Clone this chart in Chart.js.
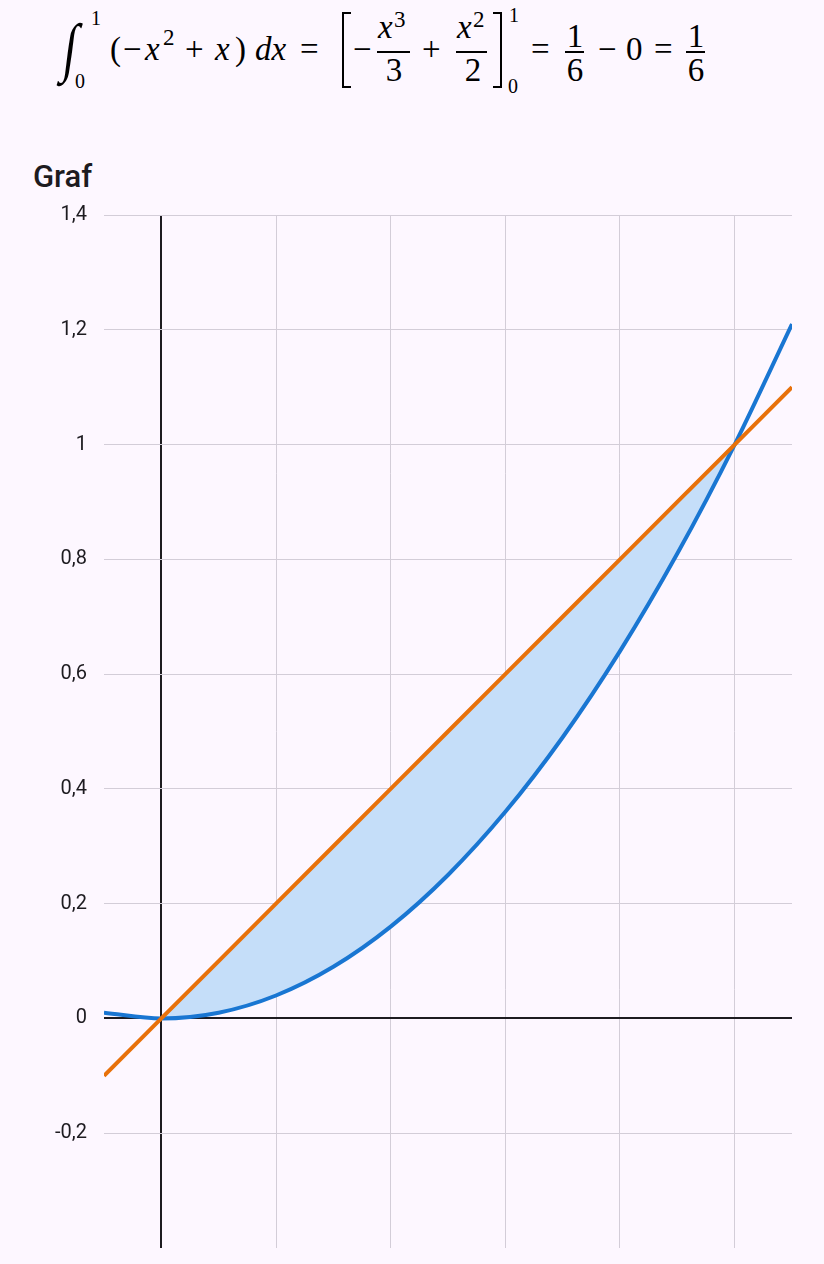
<!DOCTYPE html>
<html>
<head>
<meta charset="utf-8">
<script src="https://cdn.jsdelivr.net/npm/chart.js@4"></script>
<style>
  html, body { margin: 0; padding: 0; background: #fdf7ff; }
  body { width: 824px; height: 1264px; position: relative; overflow: hidden; }
  .m { position: absolute; font-family: 'Liberation Serif', serif; font-size: 33px; line-height: 1; color: #000; white-space: nowrap; }
  .m.i { font-style: italic; }
  .m.s { font-size: 23px; }
  .m.l { font-size: 20px; }
  .m.c { text-align: center; width: 20px; }
  .bar { position: absolute; height: 1.5px; background: #000; top: 51px; }
  .br { position: absolute; top: 12px; width: 9px; height: 76px; box-sizing: border-box; border: 2px solid #000; }
  .int { position: absolute; left: 64px; top: 23px; font-family: 'Liberation Serif', serif; font-size: 48px; line-height: 1;
         transform-origin: 50% 50%; transform: scaleY(1.35) skewX(-10deg); }
  #title { position: absolute; left: 33px; top: 161px; font-family: Roboto, sans-serif; font-size: 31px; line-height: 1; font-weight: 500; color: #1d1b20; }
  #wrap { position: absolute; left: 0; top: 186px; width: 824px; height: 1091px; }
</style>
</head>
<body>
<!-- formula: ∫₀¹ (−x² + x) dx = [−x³/3 + x²/2]₀¹ = 1/6 − 0 = 1/6 -->
<span class="int">∫</span>
<span class="m l" style="left:91px;top:8px">1</span>
<span class="m l" style="left:75px;top:71px">0</span>
<span class="m" style="left:110px;top:33px">(</span>
<span class="m" style="left:123px;top:33px">−</span>
<span class="m i" style="left:145px;top:33px">x</span>
<span class="m s" style="left:163px;top:26px">2</span>
<span class="m" style="left:185px;top:33px">+</span>
<span class="m i" style="left:215px;top:33px">x</span>
<span class="m" style="left:235px;top:33px">)</span>
<span class="m i" style="left:255px;top:33px">dx</span>
<span class="m" style="left:300px;top:33px">=</span>
<span class="br" style="left:342px;border-right:none"></span>
<span class="m" style="left:353px;top:33px">−</span>
<span class="m i" style="left:378px;top:11px">x</span>
<span class="m s" style="left:394px;top:8px">3</span>
<div class="bar" style="left:377px;width:33px"></div>
<span class="m c" style="left:384px;top:54px">3</span>
<span class="m" style="left:422px;top:33px">+</span>
<span class="m i" style="left:457px;top:11px">x</span>
<span class="m s" style="left:473px;top:8px">2</span>
<div class="bar" style="left:456px;width:31px"></div>
<span class="m c" style="left:463px;top:54px">2</span>
<span class="br" style="left:493px;border-left:none"></span>
<span class="m l" style="left:509px;top:5px">1</span>
<span class="m l" style="left:508px;top:76px">0</span>
<span class="m" style="left:531px;top:33px">=</span>
<span class="m c" style="left:565px;top:20px">1</span>
<div class="bar" style="left:565px;width:19px"></div>
<span class="m c" style="left:565px;top:54px">6</span>
<span class="m" style="left:598px;top:33px">−</span>
<span class="m" style="left:626px;top:33px">0</span>
<span class="m" style="left:654px;top:33px">=</span>
<span class="m c" style="left:686px;top:20px">1</span>
<div class="bar" style="left:686px;width:19px"></div>
<span class="m c" style="left:686px;top:54px">6</span>

<div id="title">Graf</div>
<div id="wrap"><canvas id="myChart" width="824" height="1091"></canvas></div>
<script>
// x positions used for both curves
const xValues = [-0.1, 0, 0.1, 0.2, 0.3, 0.4, 0.5, 0.6, 0.7, 0.8, 0.9, 1, 1.1];
// blue curve (x^2)
const parabolaY = [0.01, 0, 0.01, 0.04, 0.09, 0.16, 0.25, 0.36, 0.49, 0.64, 0.81, 1, 1.21];
// orange straight line (x)
const lineY = [-0.1, 0, 0.1, 0.2, 0.3, 0.4, 0.5, 0.6, 0.7, 0.8, 0.9, 1, 1.1];
// axis ticks
const xTicks = [0, 0.2, 0.4, 0.6, 0.8, 1];
const yTicks = [-0.2, 0, 0.2, 0.4, 0.6, 0.8, 1, 1.2, 1.4];

const toPoints = (ys) => xValues.map((x, i) => ({ x: x, y: ys[i] }));

// zero lines are drawn dark, the rest light
const gridColor = (c) => (c.tick && c.tick.value === 0) ? '#1d1b20' : '#d3cdd8';
const gridWidth = (c) => (c.tick && c.tick.value === 0) ? 2 : 1;

const ctx = document.getElementById('myChart').getContext('2d');

const myChart = new Chart(ctx, {
    type: 'scatter',
    data: {
        datasets: [{
            data: toPoints(parabolaY),
            showLine: true,
            borderColor: '#1976d2',
            borderWidth: 4,
            pointRadius: 0,
            cubicInterpolationMode: 'monotone',
            fill: { target: 1, above: 'rgba(0,0,0,0)', below: '#c5def9' },
            order: 2
        }, {
            data: toPoints(lineY),
            showLine: true,
            borderColor: '#e8710a',
            borderWidth: 4,
            pointRadius: 0,
            fill: false,
            order: 1
        }]
    },
    options: {
        responsive: false,
        animation: false,
        layout: { padding: { top: 0, bottom: 0, right: 32, left: 0 } },
        plugins: { legend: { display: false }, tooltip: { enabled: false } },
        scales: {
            x: {
                type: 'linear',
                min: -0.1,
                max: 1.1,
                afterBuildTicks: (scale) => { scale.ticks = xTicks.map(v => ({ value: v })); },
                afterFit: (scale) => { scale.height = 0; },
                ticks: { display: false },
                border: { display: false },
                grid: { color: gridColor, lineWidth: gridWidth, drawTicks: false }
            },
            y: {
                type: 'linear',
                min: -0.4,
                max: 1.4,
                afterBuildTicks: (scale) => { scale.ticks = yTicks.map(v => ({ value: v })); },
                afterFit: (scale) => { scale.width = 104; },
                ticks: {
                    padding: 17,
                    color: '#1d1b20',
                    font: { family: 'Roboto', size: 20 },
                    callback: (v) => String(Number(v.toFixed(1))).replace('.', ',')
                },
                border: { display: false },
                grid: { color: gridColor, lineWidth: gridWidth, drawTicks: false }
            }
        }
    }
});
</script>
</body>
</html>
